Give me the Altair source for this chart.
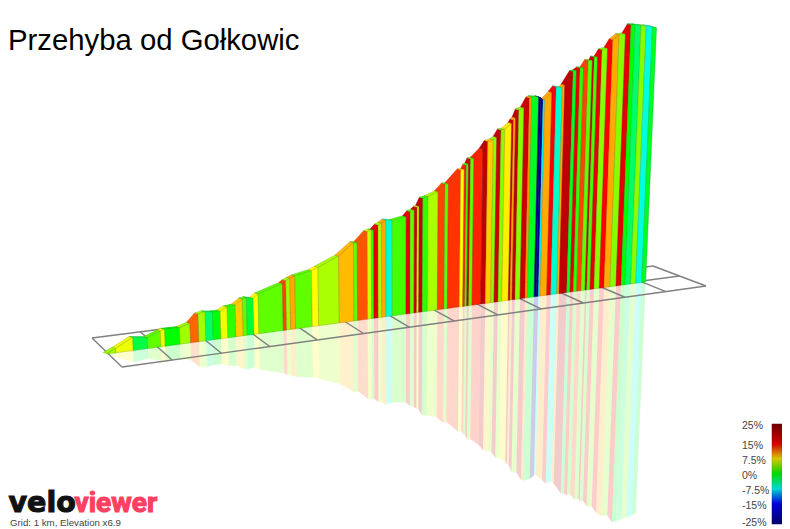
# Perfil 3D de subida no estilo VeloViewer, com parede, reflexo e grade em perspectiva

import altair as alt
import pandas as pd

# Distância e altura nos limites de cada trecho (unidades)
dist = [106.7, 116, 133.3, 147.7, 161, 165.3, 180, 190.7, 199, 206, 213.3, 221, 228, 236, 243.3, 247.3, 254, 259,
        283.3, 286.7, 290.7, 295.7, 312.3, 318.7, 339.3, 354, 357.7, 367.7, 371.7, 374, 378.3, 381.7, 386, 392.3,
        406, 410, 414, 416.7, 418.7, 422.3, 427.3, 437.3, 444, 447.3, 459.3, 462.7, 464.7, 466.7, 468.7, 472,
        480.7, 485.3, 490.7, 494, 498, 501.7, 508.3, 510, 512, 515, 520, 525, 527.3, 534, 536, 538.3, 540, 546.7,
        550.7, 556.7, 559, 566.7, 570, 573.3, 576.7, 581, 585, 586.7, 590, 594, 599.3, 604, 610, 616, 621, 625,
        630.7, 635.7, 641.7, 645.7]
elev = [0.5, 4.5, 13, 11, 15.8, 17, 16.5, 19.5, 27.7, 29, 27.8, 27.7, 31, 31.7, 36.8, 37.5, 36, 39.7,
        47, 49.3, 51, 52.8, 55.8, 58.4, 67, 78.3, 77.8, 87.5, 88.6, 88.3, 92.7, 94, 96.7, 95.2,
        97.3, 101.8, 103, 105.3, 106, 113.6, 114.5, 118, 125, 124.6, 137, 137, 141, 142, 146.7, 147,
        155, 161.8, 162.8, 165, 171.8, 172, 177, 180, 182, 189.5, 191, 200, 201, 200, 198.7, 196.4, 196.2, 203,
        207.8, 206, 208.7, 221, 221.5, 223.7, 223.3, 230, 229.5, 232.7, 232.3, 239, 240, 247.7, 252, 252, 260.4, 260,
        258.4, 257.5, 255.7, 253.8]
# Inclinação (%) de cada trecho
grad = [4.7, 7, -2, 2.8, 7, 0, 4.7, 12, 4.7, -3, -0.3, 7, 1.4, 9, 2.8, -1.5, 7.5,
        2.8, 13, 4.7, 10, 2.8, 7.5, 5, 9.5, 2.8, 12.5, 6, 1.4, 17, 5, 10, -6,
        2, 17, 2.8, 19, 6, 20, 1.4, 5, 13, 2.8, 13.5, 7.5, 14, 2, 19, 2.8,
        14, 20, 9, 4, 19, 4, 8, 19, 10, 20, 4, 19, 10.5, -1, -25, -24, -7.5, 10,
        15, -6, 10, 20, -1, 17, 1.4, 13, 2.8, 19, 2, 17, 4, 15, 10, 4, 17, 0,
        -3, 4, -6.5, -1]

grid_km = list(range(14))
legend_ticks = [25, 15, 7.5, 0, -7.5, -15, -25]
legend_labels = ['25%', '15%', '7.5%', '0%', '-7.5%', '-15%', '-25%']
legend_steps = [v / 2 for v in range(-50, 50)]

grad_domain = [-25, -15, -7.5, 0, 7.5, 15, 25]
grad_colors = ['#000080', '#0000ff', '#00ffff', '#00ff00', '#ffff00', '#ff0000', '#800000']
grad_dark = ['#00005c', '#0000b8', '#00b8b8', '#00b800', '#b8a000', '#b00000', '#5c0000']


# Chão sob a parede, que desce para a esquerda
def chao(x):
    return 354 - 0.1338 * (x - 107)


# Inclinação das verticais rumo ao ponto de fuga
def fuga(x, h):
    return (x - 395) * 0.00017 * h


# Perspectiva ao longo da grade, de 0 a 1
def perspectiva(k):
    s = lambda v: 50.7 * v / (1 + 0.0099 * v)
    return s(k) / s(13)


parede, topo, reflexo = [], [], []
for i, g in enumerate(grad):
    x0, x1 = dist[i], dist[i + 1]
    h0, h1 = elev[i], elev[i + 1]
    ax, ay = x0 + fuga(x0, h0), chao(x0) - h0
    bx, by = x1 + fuga(x1, h1), chao(x1) - h1
    cantos = [(ax, ay), (bx, by), (x1, chao(x1)), (x0, chao(x0))]
    parede += [dict(seg=i, v=j, x=p[0], y=p[1], g=g) for j, p in enumerate(cantos)]
    cantos = [(ax, ay), (bx, by), (bx - 3.5, by - 1), (ax - 3.5, ay - 1)]
    topo += [dict(seg=i, v=j, x=p[0], y=p[1], g=g) for j, p in enumerate(cantos)]
    cantos = [(x0, chao(x0)), (x1, chao(x1)), (x1 - fuga(x1, h1) * 0.91, chao(x1) + h1 * 0.91),
              (x0 - fuga(x0, h0) * 0.91, chao(x0) + h0 * 0.91)]
    reflexo += [dict(seg=i, v=j, x=p[0], y=p[1], g=g) for j, p in enumerate(cantos)]

# Linhas da grade: frente, meio, fundo e travessas
grade = []
for k in grid_km:
    t = perspectiva(k)
    grade.append(dict(x=92 + 561 * t, y=338 - 72 * t, x2=122 + 584 * t, y2=367 - 81 * t))
for lado in (0, 0.5, 1):
    grade.append(dict(x=92 + 30 * lado, y=338 + 29 * lado, x2=653 + 53 * lado, y2=266 + 20 * lado))

# Escalas em pixels da tela (a página tem margem de 8px)
ex = alt.Scale(domain=[8, 782], nice=False, zero=False)
ey = alt.Scale(domain=[529, 8], nice=False, zero=False)
X = alt.X('x:Q', scale=ex, axis=None)
Y = alt.Y('y:Q', scale=ey, axis=None)
cor = alt.Scale(domain=grad_domain, range=grad_colors, interpolate='rgb')
cor_topo = alt.Scale(domain=grad_domain, range=grad_dark, interpolate='rgb')


def poligonos(linhas, escala, borda=True, **estilo):
    enc = dict(x=X, y=Y, detail='seg:N', order='v:Q', fill=alt.Fill('g:Q', scale=escala, legend=None))
    if borda:
        enc['stroke'] = alt.Stroke('g:Q', scale=escala, legend=None)
    return alt.Chart(pd.DataFrame(linhas)).mark_line(interpolate='linear-closed', **estilo).encode(**enc)


camada_reflexo = poligonos(reflexo, cor, borda=False, opacity=0.2, strokeWidth=0)
camada_grade = alt.Chart(pd.DataFrame(grade)).mark_rule(color='#808080', strokeWidth=1.4, opacity=1).encode(
    x=X, y=Y, x2='x2:Q', y2='y2:Q')
camada_topo = poligonos(topo, cor_topo, strokeWidth=0.4, opacity=1)
camada_parede = poligonos(parede, cor, strokeWidth=0.4, opacity=1)


def texto(rotulo, px, py, **estilo):
    return alt.Chart(pd.DataFrame([dict(x=px, y=py, t=rotulo)])).mark_text(align='left', baseline='alphabetic', **estilo).encode(
        x=X, y=Y, text='t:N')


titulo = texto('Przehyba od Gołkowic', 8, 50, font='Liberation Sans', fontSize=29.3, color='#000000')
rodape = texto('Grid: 1 km, Elevation x6.9', 10, 526, font='Liberation Sans', fontSize=9.7, color='#444444')
logo_velo = texto('velo', 8.5, 512, font='DejaVu Sans', fontWeight='bold', fontSize=28.5, color='#111111', stroke='#111111', strokeWidth=1.1)
logo_viewer = texto('viewer', 74.5, 512, font='Roboto', fontWeight='bold', fontSize=28, color='#ff4060', stroke='#ff4060', strokeWidth=1.1)

# Legenda de cores, oito pixels à esquerda porque a página não desenha além de x=782
df_barra = pd.DataFrame({'g': legend_steps})
barra = alt.Chart(df_barra).transform_calculate(y='474 - 2 * datum.g', y2='474 - 2 * (datum.g + 0.5)', x='772', x2='782').mark_rect(
    opacity=1, strokeWidth=0.5).encode(
    x=X, x2='x2:Q', y=Y, y2='y2:Q', fill=alt.Fill('g:Q', scale=cor, legend=None), stroke=alt.Stroke('g:Q', scale=cor, legend=None))
df_rotulos = pd.DataFrame({'g': legend_ticks, 't': legend_labels})
rotulos = alt.Chart(df_rotulos).transform_calculate(y='min(475.7 - 2 * datum.g, 523)', x='742').mark_text(
    align='left', baseline='middle', font='Liberation Sans', fontSize=10.5, color='#444444').encode(x=X, y=Y, text='t:N')

chart = alt.layer(camada_reflexo, camada_grade, camada_topo, camada_parede, titulo, rodape, logo_velo, logo_viewer, barra, rotulos).properties(
    width=774, height=521, padding=0, background='white',
    autosize=alt.AutoSizeParams(type='none')
).configure_view(stroke=None)

chart.save("out.html", embed_options={"renderer": "svg", "actions": False})
